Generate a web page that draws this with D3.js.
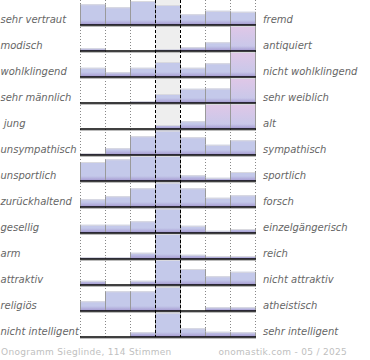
<!DOCTYPE html>
<html>
<head>
<meta charset="utf-8">
<script src="https://cdn.jsdelivr.net/npm/d3@7"></script>
<style>
  body { margin: 0; background: #fff; }
  svg { display: block; }
</style>
</head>
<body>
<svg id="chart" width="370" height="360"></svg>
<script>
var left_labels = ["sehr vertraut", "modisch", "wohlklingend", "sehr männlich", " jung", "unsympathisch",
    "unsportlich", "zurückhaltend", "gesellig", "arm", "attraktiv", "religiös", "nicht intelligent"];
var right_labels = ["fremd", "antiquiert", "nicht wohlklingend", "sehr weiblich", "alt", "sympathisch",
    "sportlich", "forsch", "einzelgängerisch", "reich", "nicht attraktiv", "atheistisch", "sehr intelligent"];

// share of votes per column (percent of the row maximum), 7 columns per row
var row_values = [
    [83, 71, 96, 80, 43, 57, 53],
    [11, 0, 0, 7, 15, 35, 100],
    [37, 19, 37, 60, 37, 55, 100],
    [0, 1, 7, 36, 57, 58, 100],
    [0, 0, 0, 16, 31, 100, 100],
    [8, 27, 75, 97, 71, 41, 59],
    [76, 87, 100, 100, 23, 13, 36],
    [31, 43, 75, 97, 75, 37, 47],
    [33, 33, 47, 97, 29, 9, 16],
    [7, 7, 25, 100, 17, 12, 12],
    [17, 0, 17, 100, 64, 35, 53],
    [39, 79, 79, 96, 0, 15, 15],
    [0, 0, 19, 97, 35, 21, 19]
];
// cells that run over the top of their row (drawn pink)
var overflow_cells = [[1, 6], [2, 6], [3, 6], [4, 5], [4, 6]];

var footer_left = "Onogramm Sieglinde, 114 Stimmen";
var footer_right = "onomastik.com - 05 / 2025";

var svg = d3.select("#chart");
var num_cols = 7;
var x = d3.scaleLinear().domain([0, num_cols]).range([80, 255]);
var row_base = d3.scaleLinear().domain([0, left_labels.length - 1]).range([25, 337]);
var bar_h = d3.scaleLinear().domain([0, 100]).range([0, 25]);

var defs = svg.append("defs");
var pink = defs.append("linearGradient").attr("id", "pink_grad").attr("x1", 0).attr("y1", 0).attr("x2", 0).attr("y2", 1);
pink.append("stop").attr("offset", "0%").attr("stop-color", "#e0c7e7");
pink.append("stop").attr("offset", "100%").attr("stop-color", "#c4c8ea");
var foot = defs.append("linearGradient").attr("id", "foot_grad").attr("x1", 0).attr("y1", 0).attr("x2", 0).attr("y2", 1);
foot.append("stop").attr("offset", "0%").attr("stop-color", "#a395cf").attr("stop-opacity", 0);
foot.append("stop").attr("offset", "100%").attr("stop-color", "#a093cd").attr("stop-opacity", 0.95);

var top_y = 0, bottom_y = row_base(left_labels.length - 1);

// middle column background
svg.append("rect")
    .attr("x", x(3)).attr("y", top_y)
    .attr("width", x(4) - x(3)).attr("height", bottom_y - top_y)
    .attr("fill", "#eeeeee");

// grid lines
var grid = svg.append("g");
d3.range(num_cols + 1).forEach(function(i)
{
    if (i == 3 || i == 4) return;
    grid.append("line")
        .attr("x1", x(i) + 0.5).attr("x2", x(i) + 0.5)
        .attr("y1", top_y).attr("y2", bottom_y)
        .attr("stroke", "#888").attr("stroke-width", 1).attr("stroke-dasharray", "1,2");
});

function is_overflow(r, c)
{
    return overflow_cells.some(function(p) { return p[0] == r && p[1] == c; });
}

var rows = svg.append("g").selectAll("g").data(row_values).join("g");
rows.each(function(values, r)
{
    var g = d3.select(this);
    var base = row_base(r);
    values.forEach(function(v, c)
    {
        var h = bar_h(v);
        if (h <= 0) return;
        var x0 = x(c), w = x(c + 1) - x(c);
        g.append("rect")
            .attr("x", x0).attr("y", base - h).attr("width", w).attr("height", h)
            .attr("fill", is_overflow(r, c) ? "url(#pink_grad)" : "#c4c9ea");
        var fh = Math.min(h, 5);
        g.append("rect")
            .attr("x", x0).attr("y", base - fh).attr("width", w).attr("height", fh)
            .attr("fill", "url(#foot_grad)");
        // light top cap
        g.append("line")
            .attr("x1", x0).attr("x2", x0 + w)
            .attr("y1", base - h + 0.5).attr("y2", base - h + 0.5)
            .attr("stroke", "#d9d9df").attr("stroke-width", 1);
        // side edges
        [x0, x0 + w].forEach(function(xe)
        {
            g.append("line")
                .attr("x1", xe + 0.5).attr("x2", xe + 0.5)
                .attr("y1", base - h).attr("y2", base)
                .attr("stroke", "#9a9a9a").attr("stroke-width", 1);
        });
    });
    // baseline and its shadow
    g.append("line")
        .attr("x1", x(0)).attr("x2", x(num_cols) + 1)
        .attr("y1", base + 1.5).attr("y2", base + 1.5)
        .attr("stroke", "#bbb").attr("stroke-width", 1);
    g.append("line")
        .attr("x1", x(0)).attr("x2", x(num_cols) + 1)
        .attr("y1", base).attr("y2", base)
        .attr("stroke", "#000").attr("stroke-width", 1.6);
});

// dashed borders of the middle column
[3, 4].forEach(function(i)
{
    svg.append("line")
        .attr("x1", x(i) + 0.5).attr("x2", x(i) + 0.5)
        .attr("y1", top_y).attr("y2", bottom_y)
        .attr("stroke", "#000").attr("stroke-width", 1).attr("stroke-dasharray", "3,2");
});

// labels
var label_font = "'DejaVu Sans', sans-serif";
svg.append("g").selectAll("text").data(left_labels).join("text")
    .attr("x", 0.5)
    .attr("y", function(d, i) { return row_base(i) - 2; })
    .attr("font-family", label_font).attr("font-size", "10px").attr("font-style", "italic")
    .attr("fill", "#666").attr("xml:space", "preserve").style("white-space", "pre")
    .text(function(d) { return d; });
svg.append("g").selectAll("text").data(right_labels).join("text")
    .attr("x", 263)
    .attr("y", function(d, i) { return row_base(i) - 2; })
    .attr("font-family", label_font).attr("font-size", "10px").attr("font-style", "italic")
    .attr("fill", "#666")
    .text(function(d) { return d; });

// footer
svg.append("text")
    .attr("x", 1).attr("y", 355)
    .attr("font-family", label_font).attr("font-size", "9px").attr("letter-spacing", "0.3px")
    .attr("fill", "#c0c0c0").text(footer_left);
svg.append("text")
    .attr("x", 347).attr("y", 355).attr("text-anchor", "end")
    .attr("font-family", label_font).attr("font-size", "9px").attr("letter-spacing", "0.3px")
    .attr("fill", "#c0c0c0").text(footer_right);
</script>
</body>
</html>
